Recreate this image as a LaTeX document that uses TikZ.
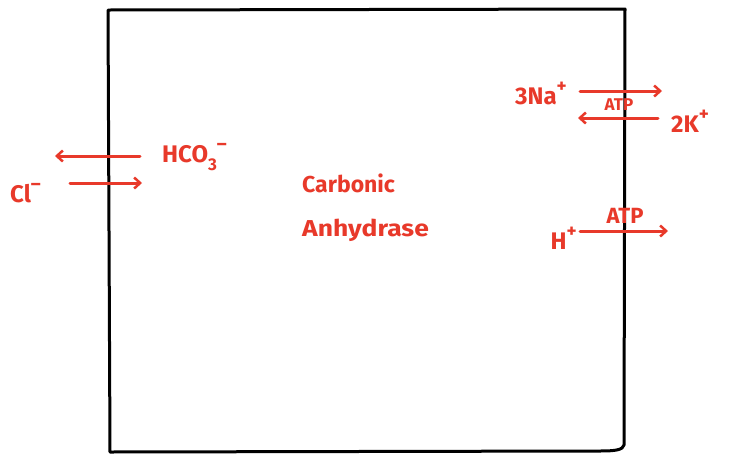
\documentclass[tikz,border=0pt]{standalone}
\usepackage{fontspec}
\setmainfont{Fira Sans}
\usetikzlibrary{arrows.meta}
\definecolor{ink}{HTML}{E8392A}
\newcommand{\charge}[1]{\raisebox{0.5em}{\bfseries\fontsize{19}{20}\selectfont #1}}
\newcommand{\lowidx}[1]{\raisebox{-0.3em}{\bfseries\fontsize{17}{18}\selectfont #1}}
\tikzset{
  wall/.style={line width=3pt, black, line cap=round, line join=round},
  flux/.style={line width=3pt, ink, line cap=round, -{Straight Barb[length=6pt,width=11pt,line width=2.5pt]}},
  label/.style={text=ink, font=\bfseries\fontsize{24}{26}\selectfont, inner sep=0pt},
  enzyme/.style={text=ink, font=\bfseries\fontsize{23}{25}\selectfont, inner sep=0pt, anchor=west},
}
\begin{document}
\begin{tikzpicture}[x=1pt,y=-1pt]
\useasboundingbox (0,0) rectangle (732,459);
\fill[white] (0,0) rectangle (732,459);
% cell membrane
\draw[wall] (110,452) -- (108,10) -- (625,9) -- (624,445) .. controls (623,450) and (615,451) .. (600,451) -- (110,452);

% chloride / bicarbonate exchanger
\coordinate (hcoS) at (140,156);
\coordinate (hcoE) at (55,156);
\coordinate (clS) at (70,183);
\coordinate (clE) at (142,183);
\draw[flux] (hcoS) -- (hcoE);
\draw[flux] (clS) -- (clE);
\node[label, anchor=west] (hco) at (162,157) {HCO\lowidx{3}\charge{–}};
\node[label, anchor=west] (cl) at (10,193) {Cl\charge{–}};

% enzyme
\node[enzyme] (carb) at (302,183) {Carbonic};
\node[enzyme, xscale=1.15] (anhy) at (302,230) {Anhydrase};

% sodium-potassium pump
\coordinate (naS) at (580,91);
\coordinate (naE) at (662,91);
\coordinate (kS) at (658,118);
\coordinate (kE) at (578,118);
\draw[flux] (naS) -- (naE);
\draw[flux] (kS) -- (kE);
\node[label, anchor=east] (na) at (567,93) {3Na\charge{+}};
\node[label, anchor=west] (k) at (671,121) {2K\charge{+}};
\node[label, font=\bfseries\fontsize{17}{18}\selectfont] (atp1) at (619,105) {ATP};

% proton pump
\coordinate (hS) at (580,231);
\coordinate (hE) at (668,231);
\draw[flux] (hS) -- (hE);
\node[label, anchor=east] (h) at (577,238) {H\charge{+}};
\node[label, font=\bfseries\fontsize{22}{23}\selectfont] (atp2) at (625,216) {ATP};
\end{tikzpicture}
\end{document}
